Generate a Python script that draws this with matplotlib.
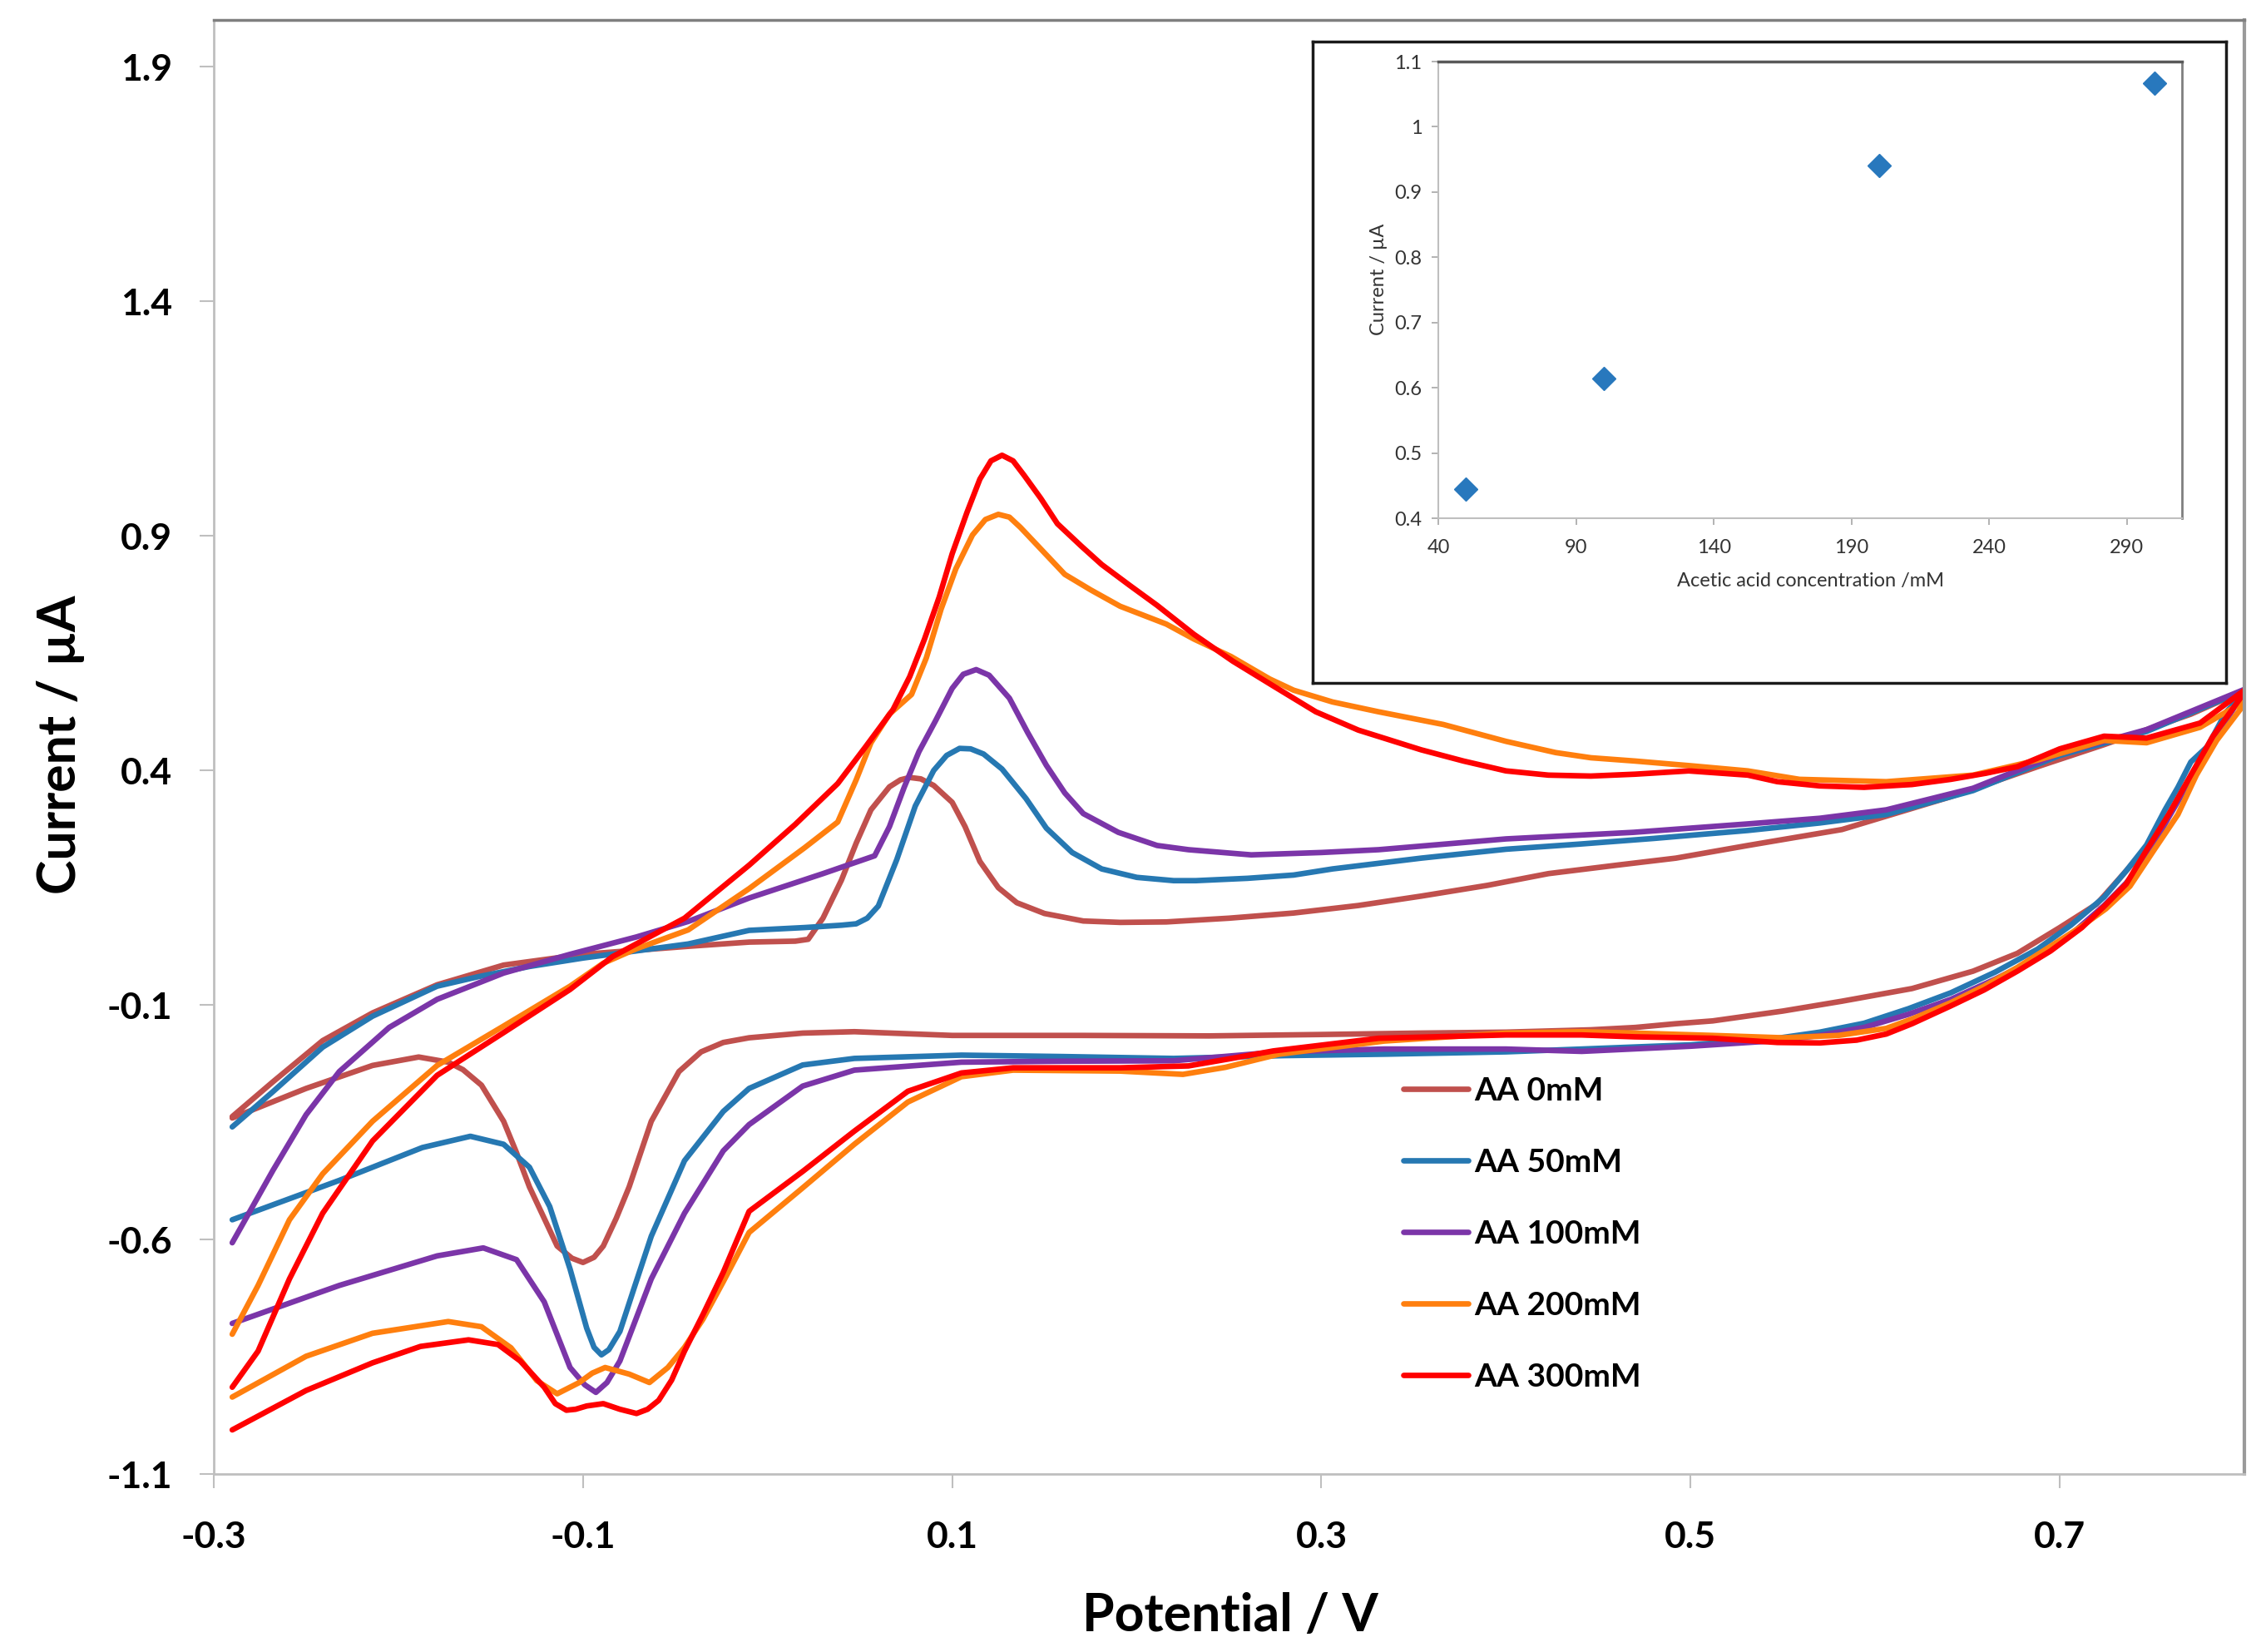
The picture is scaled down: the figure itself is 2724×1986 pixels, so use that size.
import numpy as np
import matplotlib
matplotlib.use("Agg")
import matplotlib.pyplot as plt

plt.rcParams['font.family'] = ['Lato', 'DejaVu Sans']

# cyclic voltammograms: forward sweep (-0.29 -> 0.8 V) then reverse sweep
labels = ["AA 0mM", "AA 50mM", "AA 100mM", "AA 200mM", "AA 300mM"]
colors = ["#C0504D", "#2678B2", "#7B35A8", "#FF7F0E", "#FF0000"]

v_fwd_0 = [-0.290, -0.268, -0.241, -0.214, -0.179, -0.143, -0.100, -0.043, -0.010, 0.015,
           0.022, 0.030, 0.040, 0.048, 0.056, 0.066, 0.072, 0.077, 0.083, 0.090,
           0.100, 0.107, 0.115, 0.125, 0.135, 0.150, 0.171, 0.191, 0.216, 0.250,
           0.285, 0.320, 0.354, 0.390, 0.423, 0.460, 0.492, 0.531, 0.582, 0.641,
           0.688, 0.724, 0.771, 0.802]
i_fwd_0 = [-0.338, -0.264, -0.176, -0.117, -0.057, -0.015, 0.008, 0.025, 0.034, 0.036,
           0.040, 0.085, 0.166, 0.245, 0.316, 0.365, 0.380, 0.385, 0.382, 0.368,
           0.332, 0.280, 0.206, 0.150, 0.118, 0.095, 0.079, 0.076, 0.077, 0.085,
           0.096, 0.112, 0.132, 0.155, 0.180, 0.198, 0.213, 0.240, 0.274, 0.344,
           0.408, 0.455, 0.520, 0.574]
v_rev_0 = [0.802, 0.785, 0.770, 0.759, 0.748, 0.736, 0.720, 0.700, 0.677, 0.653,
           0.620, 0.582, 0.550, 0.512, 0.492, 0.470, 0.446, 0.400, 0.354, 0.300,
           0.239, 0.170, 0.100, 0.047, 0.019, -0.010, -0.024, -0.036, -0.048, -0.063,
           -0.075, -0.082, -0.089, -0.094, -0.100, -0.106, -0.114, -0.121, -0.129, -0.136,
           -0.143, -0.155, -0.165, -0.173, -0.189, -0.214, -0.250, -0.290]
i_rev_0 = [0.574, 0.483, 0.380, 0.306, 0.240, 0.186, 0.115, 0.065, 0.010, -0.028,
           -0.065, -0.092, -0.113, -0.134, -0.140, -0.148, -0.153, -0.158, -0.160, -0.163,
           -0.166, -0.165, -0.165, -0.157, -0.160, -0.170, -0.180, -0.200, -0.242, -0.348,
           -0.488, -0.555, -0.614, -0.638, -0.649, -0.640, -0.614, -0.555, -0.488, -0.415,
           -0.348, -0.271, -0.238, -0.222, -0.211, -0.229, -0.278, -0.341]

v_fwd_50 = [-0.290, -0.268, -0.241, -0.214, -0.179, -0.157, -0.129, -0.100, -0.043, -0.010,
            0.020, 0.040, 0.048, 0.054, 0.060, 0.070, 0.080, 0.090, 0.097, 0.104,
            0.110, 0.117, 0.127, 0.140, 0.151, 0.165, 0.181, 0.200, 0.220, 0.232,
            0.260, 0.285, 0.306, 0.354, 0.400, 0.440, 0.480, 0.531, 0.570, 0.606,
            0.653, 0.700, 0.747, 0.802]
i_fwd_50 = [-0.360, -0.285, -0.190, -0.124, -0.060, -0.040, -0.018, 0.000, 0.030, 0.059,
            0.065, 0.070, 0.073, 0.085, 0.111, 0.210, 0.324, 0.400, 0.432, 0.447,
            0.446, 0.435, 0.403, 0.340, 0.277, 0.225, 0.190, 0.172, 0.165, 0.165,
            0.170, 0.177, 0.190, 0.213, 0.232, 0.243, 0.255, 0.272, 0.288, 0.306,
            0.357, 0.432, 0.483, 0.574]
v_rev_50 = [0.802, 0.790, 0.780, 0.771, 0.764, 0.757, 0.747, 0.736, 0.724, 0.706,
            0.688, 0.665, 0.641, 0.618, 0.594, 0.570, 0.547, 0.500, 0.441, 0.400,
            0.334, 0.280, 0.220, 0.160, 0.105, 0.047, 0.019, -0.010, -0.024, -0.045,
            -0.063, -0.072, -0.080, -0.086, -0.090, -0.094, -0.098, -0.107, -0.118, -0.129,
            -0.143, -0.161, -0.187, -0.232, -0.290]
i_rev_50 = [0.574, 0.524, 0.451, 0.418, 0.364, 0.316, 0.241, 0.186, 0.130, 0.070,
            0.019, -0.030, -0.074, -0.108, -0.139, -0.158, -0.171, -0.185, -0.194, -0.200,
            -0.205, -0.208, -0.214, -0.210, -0.207, -0.214, -0.228, -0.278, -0.327, -0.432,
            -0.593, -0.700, -0.796, -0.835, -0.846, -0.830, -0.789, -0.663, -0.530, -0.446,
            -0.397, -0.380, -0.404, -0.474, -0.558]

v_fwd_100 = [-0.290, -0.268, -0.250, -0.232, -0.205, -0.179, -0.143, -0.107, -0.071, -0.043,
             -0.010, 0.030, 0.058, 0.066, 0.074, 0.082, 0.091, 0.100, 0.106, 0.113,
             0.120, 0.131, 0.141, 0.151, 0.161, 0.171, 0.190, 0.211, 0.228, 0.262,
             0.300, 0.331, 0.400, 0.469, 0.531, 0.570, 0.606, 0.653, 0.700, 0.747,
             0.802]
i_fwd_100 = [-0.607, -0.453, -0.334, -0.242, -0.148, -0.088, -0.032, 0.008, 0.045, 0.078,
             0.128, 0.180, 0.218, 0.280, 0.364, 0.440, 0.506, 0.575, 0.605, 0.615,
             0.603, 0.554, 0.480, 0.411, 0.352, 0.308, 0.268, 0.240, 0.231, 0.220,
             0.225, 0.231, 0.254, 0.268, 0.286, 0.298, 0.316, 0.362, 0.436, 0.487,
             0.576]
v_rev_100 = [0.802, 0.795, 0.783, 0.771, 0.759, 0.747, 0.736, 0.724, 0.706, 0.688,
             0.665, 0.641, 0.618, 0.594, 0.570, 0.547, 0.500, 0.441, 0.400, 0.334,
             0.277, 0.220, 0.160, 0.105, 0.047, 0.019, -0.010, -0.024, -0.045, -0.063,
             -0.080, -0.087, -0.093, -0.099, -0.107, -0.121, -0.136, -0.154, -0.179, -0.232,
             -0.290]
i_rev_100 = [0.576, 0.538, 0.460, 0.381, 0.300, 0.214, 0.160, 0.112, 0.050, 0.000,
             -0.045, -0.088, -0.120, -0.148, -0.165, -0.176, -0.188, -0.199, -0.194, -0.194,
             -0.200, -0.219, -0.220, -0.222, -0.239, -0.273, -0.355, -0.411, -0.544, -0.684,
             -0.859, -0.905, -0.926, -0.910, -0.873, -0.733, -0.643, -0.618, -0.635, -0.698,
             -0.779]

v_fwd_200 = [-0.290, -0.276, -0.259, -0.241, -0.214, -0.179, -0.143, -0.107, -0.089, -0.071,
             -0.043, -0.010, 0.020, 0.038, 0.048, 0.056, 0.066, 0.078, 0.086, 0.094,
             0.102, 0.111, 0.118, 0.125, 0.131, 0.137, 0.149, 0.161, 0.175, 0.191,
             0.216, 0.231, 0.251, 0.272, 0.285, 0.306, 0.331, 0.366, 0.400, 0.427,
             0.446, 0.470, 0.500, 0.531, 0.559, 0.606, 0.653, 0.688, 0.724, 0.747,
             0.776, 0.802]
i_fwd_200 = [-0.802, -0.698, -0.558, -0.460, -0.348, -0.229, -0.145, -0.060, -0.011, 0.020,
             0.060, 0.148, 0.235, 0.290, 0.380, 0.459, 0.520, 0.562, 0.640, 0.744,
             0.830, 0.902, 0.935, 0.946, 0.940, 0.918, 0.868, 0.818, 0.785, 0.750,
             0.712, 0.680, 0.643, 0.595, 0.571, 0.546, 0.525, 0.498, 0.462, 0.438,
             0.427, 0.420, 0.410, 0.399, 0.381, 0.376, 0.390, 0.422, 0.464, 0.459,
             0.492, 0.552]
v_rev_200 = [0.802, 0.785, 0.774, 0.764, 0.751, 0.738, 0.725, 0.712, 0.695, 0.677,
             0.659, 0.641, 0.620, 0.606, 0.580, 0.550, 0.512, 0.470, 0.441, 0.400,
             0.334, 0.277, 0.248, 0.225, 0.191, 0.133, 0.105, 0.076, 0.047, 0.019,
             -0.010, -0.024, -0.035, -0.045, -0.054, -0.064, -0.075, -0.088, -0.095, -0.102,
             -0.114, -0.125, -0.139, -0.155, -0.173, -0.214, -0.250, -0.290]
i_rev_200 = [0.552, 0.464, 0.390, 0.306, 0.230, 0.153, 0.105, 0.068, 0.025, -0.020,
             -0.060, -0.095, -0.130, -0.150, -0.165, -0.170, -0.165, -0.160, -0.157, -0.160,
             -0.177, -0.205, -0.233, -0.248, -0.241, -0.239, -0.253, -0.307, -0.397, -0.490,
             -0.585, -0.690, -0.770, -0.830, -0.873, -0.905, -0.887, -0.873, -0.885, -0.905,
             -0.929, -0.901, -0.831, -0.786, -0.775, -0.800, -0.849, -0.936]

v_fwd_300 = [-0.290, -0.276, -0.259, -0.241, -0.214, -0.179, -0.143, -0.107, -0.084, -0.045,
             -0.010, 0.015, 0.038, 0.053, 0.068, 0.077, 0.085, 0.093, 0.100, 0.108,
             0.115, 0.121, 0.127, 0.133, 0.139, 0.148, 0.157, 0.170, 0.181, 0.196,
             0.211, 0.231, 0.252, 0.274, 0.297, 0.320, 0.354, 0.377, 0.400, 0.423,
             0.446, 0.470, 0.499, 0.531, 0.547, 0.570, 0.594, 0.620, 0.641, 0.660,
             0.677, 0.700, 0.724, 0.747, 0.776, 0.802]
i_fwd_300 = [-0.915, -0.838, -0.684, -0.544, -0.390, -0.250, -0.159, -0.067, 0.003, 0.085,
             0.198, 0.285, 0.372, 0.450, 0.530, 0.600, 0.680, 0.770, 0.862, 0.950,
             1.021, 1.060, 1.072, 1.060, 1.029, 0.980, 0.926, 0.878, 0.839, 0.795,
             0.752, 0.690, 0.633, 0.580, 0.525, 0.486, 0.444, 0.420, 0.399, 0.390,
             0.388, 0.392, 0.399, 0.390, 0.376, 0.367, 0.364, 0.370, 0.381, 0.394,
             0.408, 0.446, 0.473, 0.469, 0.501, 0.577]
v_rev_300 = [0.802, 0.783, 0.771, 0.759, 0.747, 0.736, 0.724, 0.712, 0.695, 0.677,
             0.659, 0.641, 0.620, 0.606, 0.590, 0.570, 0.547, 0.512, 0.470, 0.441,
             0.400, 0.331, 0.274, 0.250, 0.228, 0.191, 0.133, 0.105, 0.076, 0.047,
             0.019, -0.010, -0.024, -0.035, -0.045, -0.052, -0.059, -0.065, -0.071, -0.080,
             -0.089, -0.098, -0.104, -0.109, -0.115, -0.121, -0.134, -0.146, -0.162, -0.188,
             -0.214, -0.250, -0.290]
i_rev_300 = [0.577, 0.473, 0.390, 0.306, 0.230, 0.158, 0.110, 0.065, 0.015, -0.028,
             -0.068, -0.102, -0.140, -0.162, -0.175, -0.181, -0.180, -0.171, -0.168, -0.164,
             -0.164, -0.171, -0.198, -0.215, -0.230, -0.234, -0.234, -0.245, -0.284, -0.369,
             -0.455, -0.540, -0.670, -0.760, -0.838, -0.900, -0.943, -0.962, -0.971, -0.962,
             -0.950, -0.955, -0.962, -0.964, -0.950, -0.915, -0.859, -0.824, -0.814, -0.828,
             -0.863, -0.922, -1.006]

# inset: peak current vs acetic acid concentration
conc = [50, 100, 200, 300]
peak_current = [0.445, 0.614, 0.941, 1.067]

xticks = [-0.3, -0.1, 0.1, 0.3, 0.5, 0.7]
xtick_labels = ["-0.3", "-0.1", "0.1", "0.3", "0.5", "0.7"]
yticks = [-1.1, -0.6, -0.1, 0.4, 0.9, 1.4, 1.9]
ytick_labels = ["-1.1", "-0.6", "-0.1", "0.4", "0.9", "1.4", "1.9"]
inset_xticks = [40, 90, 140, 190, 240, 290]
inset_yticks = [0.4, 0.5, 0.6, 0.7, 0.8, 0.9, 1.0, 1.1]
inset_ytick_labels = ["0.4", "0.5", "0.6", "0.7", "0.8", "0.9", "1", "1.1"]

sweeps = [
    (v_fwd_0, i_fwd_0, v_rev_0, i_rev_0),
    (v_fwd_50, i_fwd_50, v_rev_50, i_rev_50),
    (v_fwd_100, i_fwd_100, v_rev_100, i_rev_100),
    (v_fwd_200, i_fwd_200, v_rev_200, i_rev_200),
    (v_fwd_300, i_fwd_300, v_rev_300, i_rev_300),
]

W, H = 2724, 1986
fig = plt.figure(figsize=(W / 100, H / 100), dpi=100)
ax = fig.add_axes([257 / W, 1 - 1772 / H, (2698 - 257) / W, (1772 - 24) / H])

handles = []
for (vf, jf, vr, jr), lab, col in zip(sweeps, labels, colors):
    v = np.concatenate([vf, vr])
    cur = np.concatenate([jf, jr])
    line, = ax.plot(v, cur, color=col, lw=4.8, solid_joinstyle='round', solid_capstyle='round', label=lab)
    handles.append(line)

ax.set_xlim(-0.3, 0.8)
ax.set_ylim(-1.1, 2.0)
ax.set_xticks(xticks)
ax.set_xticklabels(xtick_labels)
ax.set_yticks(yticks)
ax.set_yticklabels(ytick_labels)
ax.tick_params(axis='both', direction='out', length=12, width=1.5, color='#BFBFBF',
               labelsize=32)
ax.tick_params(axis='x', pad=28)
ax.tick_params(axis='y', pad=24)
for t in ax.get_xticklabels() + ax.get_yticklabels():
    t.set_fontweight('bold')

ax.spines['left'].set_color('#BFBFBF')
ax.spines['bottom'].set_color('#BFBFBF')
ax.spines['left'].set_linewidth(2)
ax.spines['bottom'].set_linewidth(2)
ax.spines['top'].set_color('#7F7F7F')
ax.spines['top'].set_linewidth(2.5)
ax.spines['right'].set_color('#9A9A9A')
ax.spines['right'].set_linewidth(3)

fig.text(73 / W, 1 - 895 / H, "Current / µA", rotation=90, ha='center', va='center',
         fontsize=45, fontweight='bold')
fig.text(1479 / W, 1 - 1961 / H, "Potential / V", ha='center', va='baseline',
         fontsize=45, fontweight='bold')

ax.legend(handles, labels, loc='upper left', bbox_to_anchor=(1687 / W, 1 - 1294 / H),
          bbox_transform=fig.transFigure, frameon=False, prop={'size': 28, 'weight': 'bold'},
          handlelength=2.0, handletextpad=0.2, labelspacing=1.31, borderpad=0, borderaxespad=0)

# inset frame
box = fig.add_axes([1578 / W, 1 - 821 / H, (2676 - 1578) / W, (821 - 50) / H])
box.set_xticks([])
box.set_yticks([])
for s in box.spines.values():
    s.set_color('#1A1A1A')
    s.set_linewidth(2.5)

ins = fig.add_axes([1729 / W, 1 - 623 / H, (2623 - 1729) / W, (623 - 74) / H])
ins.patch.set_alpha(0)
ins.plot(conc, peak_current, linestyle='none', marker='D', ms=14, color='#2878BD', mec='#2878BD')
ins.set_xlim(40, 310)
ins.set_ylim(0.4, 1.1)
ins.set_xticks(inset_xticks)
ins.set_yticks(inset_yticks)
ins.set_yticklabels(inset_ytick_labels)
ins.tick_params(axis='both', direction='out', length=6, width=1.2, color='#A6A6A6',
                labelsize=17, labelcolor='#333333')
ins.tick_params(axis='x', pad=12)
ins.tick_params(axis='y', pad=8)
ins.spines['left'].set_color('#BFBFBF')
ins.spines['bottom'].set_color('#BFBFBF')
ins.spines['left'].set_linewidth(1.5)
ins.spines['bottom'].set_linewidth(1.5)
ins.spines['top'].set_color('#595959')
ins.spines['top'].set_linewidth(2.5)
ins.spines['right'].set_color('#7F7F7F')
ins.spines['right'].set_linewidth(2)
fig.text(1658 / W, 1 - 336 / H, "Current / µA", rotation=90, ha='center', va='center',
         fontsize=17, color='#333333')
fig.text(2177 / W, 1 - 698 / H, "Acetic acid concentration /mM", ha='center', va='center',
         fontsize=17, color='#333333')

fig.savefig("out.png", dpi=100)
